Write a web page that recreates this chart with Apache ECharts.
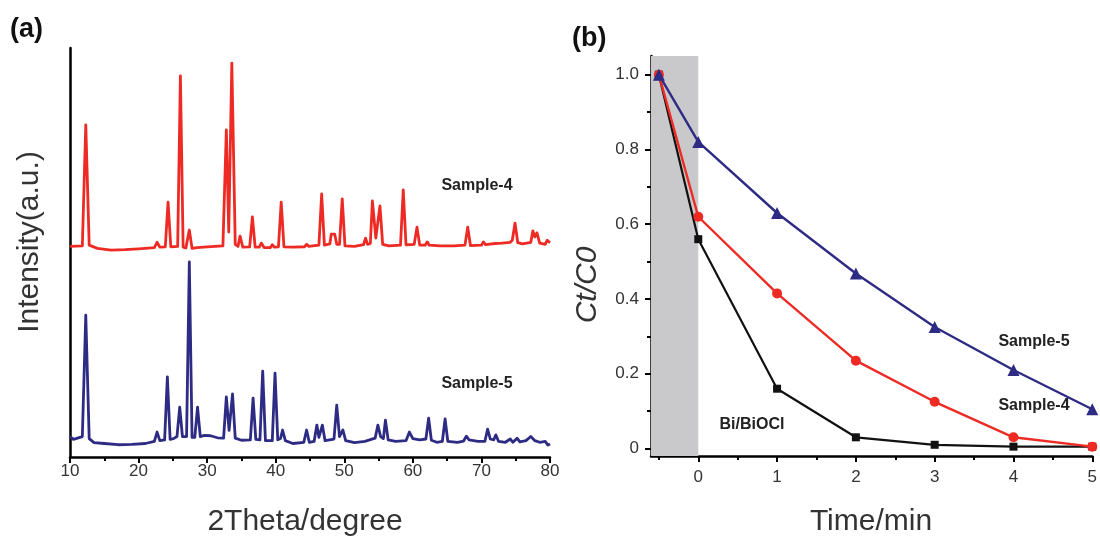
<!DOCTYPE html>
<html>
<head>
<meta charset="utf-8">
<script src="https://cdn.jsdelivr.net/npm/echarts@6/dist/echarts.min.js"></script>
<style>
  html, body { margin: 0; padding: 0; background: #ffffff; }
  #chart { width: 1100px; height: 538px; }
</style>
</head>
<body>
<div id="chart"></div>
<script>
// (a) XRD patterns: [2theta (degree), intensity (a.u., stacked offset)]
const xrdSample4 = [
  [10, 51.5], [11.8, 51.6], [12.3, 81.2], [12.8, 51.8], [14, 51.0], [16, 50.6], [18, 50.7],
  [20, 50.9], [22.3, 51.2], [22.7, 52.5], [23.1, 51.3], [23.9, 51.4], [24.3, 62.3], [24.7, 51.4],
  [25.7, 51.5], [26.1, 93.2], [26.5, 51.3], [26.9, 51.1], [27.4, 55.5], [27.8, 51.0], [28.5, 51.2],
  [30, 51.4], [32.3, 51.6], [32.8, 80.0], [33.15, 55.0], [33.6, 96.3], [34.1, 52.0], [34.5, 51.5],
  [34.8, 54.0], [35.2, 51.3], [36.2, 51.4], [36.6, 58.7], [37.0, 51.3], [37.6, 51.3], [37.9, 52.3],
  [38.3, 51.2], [39.2, 51.2], [39.5, 51.9], [39.8, 51.3], [40.4, 51.4], [40.8, 62.3], [41.2, 51.4],
  [42.5, 51.3], [44.2, 51.4], [44.5, 52.0], [44.8, 51.5], [46.3, 51.8], [46.7, 64.3], [47.1, 51.8],
  [47.9, 52.1], [48.1, 54.5], [48.6, 54.5], [48.9, 52.0], [49.3, 52.0], [49.7, 63.1], [50.1, 51.6],
  [51.5, 51.5], [52.8, 51.9], [53.1, 53.5], [53.4, 52.0], [53.8, 52.2], [54.1, 62.6], [54.6, 53.5],
  [55.2, 61.4], [55.6, 52.0], [56.5, 51.6], [58.2, 51.8], [58.6, 65.3], [59.0, 51.9], [60.2, 52.0],
  [60.6, 56.2], [61.0, 51.8], [61.8, 51.8], [62.1, 52.6], [62.4, 51.8], [64, 51.6], [66, 51.6],
  [67.6, 51.8], [68.0, 56.2], [68.4, 51.7], [70.0, 51.8], [70.3, 52.6], [70.6, 51.9], [72, 52.2],
  [73, 52.3], [74.2, 52.5], [74.5, 53.0], [74.9, 57.2], [75.3, 52.4], [76, 52.1], [77.2, 52.5],
  [77.5, 55.3], [77.8, 53.8], [78.1, 54.8], [78.5, 52.3], [79.3, 52.0], [79.6, 53.0], [80, 52.4]
];
const xrdSample5 = [
  [10, 5.0], [10.5, 4.3], [11.8, 5.0], [12.3, 34.7], [12.8, 4.5], [13.5, 3.5], [15, 3.3], [17, 3.0],
  [19, 3.1], [21, 3.3], [22.3, 3.8], [22.7, 6.1], [23.1, 4.0], [23.8, 4.2], [24.2, 19.6], [24.6, 4.3],
  [25.1, 4.5], [25.6, 5.0], [26.0, 12.2], [26.4, 5.0], [27.0, 5.0], [27.4, 47.7], [27.8, 4.8],
  [28.2, 4.8], [28.6, 12.2], [29.0, 5.0], [29.6, 5.3], [30.5, 5.2], [31.5, 4.7], [32.4, 4.6],
  [32.8, 14.7], [33.2, 6.5], [33.7, 15.4], [34.1, 4.6], [35, 4.1], [36.3, 4.2], [36.7, 14.4],
  [37.1, 4.3], [37.7, 4.2], [38.1, 21.0], [38.5, 4.0], [39.5, 4.0], [39.9, 20.5], [40.3, 4.2],
  [40.7, 4.5], [41.0, 6.6], [41.4, 4.0], [42.5, 3.3], [44.1, 3.6], [44.5, 6.6], [44.9, 3.6],
  [45.6, 3.8], [46.0, 7.8], [46.3, 4.8], [46.8, 7.8], [47.2, 4.0], [48.5, 4.4], [48.9, 12.7],
  [49.3, 5.0], [49.8, 6.6], [50.2, 4.0], [51.5, 3.5], [53, 3.8], [54.5, 4.6], [54.9, 7.8],
  [55.3, 5.0], [55.7, 4.5], [56.0, 9.0], [56.4, 4.2], [57.5, 3.8], [59.0, 4.0], [59.5, 6.1],
  [60.0, 4.5], [61, 4.2], [61.9, 4.4], [62.3, 9.5], [62.7, 4.1], [63.5, 3.6], [64.3, 3.8],
  [64.7, 9.3], [65.1, 3.8], [66.5, 3.6], [67.4, 3.9], [67.8, 5.1], [68.2, 4.2], [69.5, 3.8],
  [70.5, 3.8], [70.9, 6.8], [71.3, 4.4], [71.8, 4.2], [72.1, 5.4], [72.5, 3.8], [73.5, 3.6],
  [74.2, 4.4], [74.6, 3.6], [75.2, 4.6], [75.6, 3.7], [76.5, 4.0], [77.2, 5.0], [77.8, 4.0],
  [78.5, 3.6], [79.3, 3.8], [79.7, 2.9], [80, 3.2]
];

// (b) photodegradation: time (min) and Ct/C0
const timeMin = [-0.5, 0, 1, 2, 3, 4, 5];
const ratioBiBiOCl = [1.0, 0.56, 0.16, 0.03, 0.01, 0.005, 0.005];
const ratioSample4 = [1.0, 0.62, 0.415, 0.235, 0.125, 0.03, 0.005];
const ratioSample5 = [1.0, 0.82, 0.63, 0.468, 0.325, 0.21, 0.105];

// axis ticks for (b)
const timeTicks = [0, 1, 2, 3, 4, 5];
const timeMinorTicks = [-0.5, 0.5, 1.5, 2.5, 3.5, 4.5];
const ratioTicks = [0, 0.2, 0.4, 0.6, 0.8, 1.0];
const ratioMinorTicks = [0.1, 0.3, 0.5, 0.7, 0.9];
const darkPeriod = [-0.6, 0]; // adsorption in the dark before irradiation

const FONT = 'Liberation Sans, Arial, Helvetica, sans-serif';
const RED = '#ee2a24';
const BLUE = '#2e2b84';
const BLACK = '#111111';
const LABEL_GRAY = '#333333';

const pairs = (xs, ys) => xs.map((x, i) => [x, ys[i]]);

const axisLineStyle = { show: true, onZero: false, lineStyle: { color: '#000', width: 2.5 } };
const hiddenLine = { show: false, onZero: false };
const tickFont = { fontFamily: FONT, fontSize: 17, color: LABEL_GRAY };

const chart = echarts.init(document.getElementById('chart'), null, { renderer: 'canvas' });

chart.setOption({
  backgroundColor: '#ffffff',
  animation: false,
  grid: [
    { left: 70, top: 48, width: 480, height: 409 },
    { left: 651, top: 56, width: 445, height: 400 }
  ],
  xAxis: [
    {
      gridIndex: 0, type: 'value', position: 'bottom', min: 10, max: 80, interval: 10,
      axisLine: axisLineStyle,
      axisTick: { show: true, inside: false, length: 6, lineStyle: { color: '#000', width: 2 } },
      minorTick: { show: true, splitNumber: 2, length: 4, lineStyle: { color: '#000', width: 2 } },
      axisLabel: Object.assign({ margin: 6 }, tickFont),
      splitLine: { show: false }
    },
    {
      gridIndex: 1, type: 'value', position: 'bottom', min: -0.6, max: 5,
      axisLine: axisLineStyle,
      axisTick: { show: true, customValues: timeTicks, length: 6, lineStyle: { color: '#000', width: 2 } },
      axisLabel: Object.assign({ customValues: timeTicks, margin: 13 }, tickFont),
      splitLine: { show: false }
    },
    {
      gridIndex: 1, type: 'value', position: 'bottom', min: -0.6, max: 5,
      axisLine: hiddenLine,
      axisTick: { show: true, customValues: timeMinorTicks, length: 4, lineStyle: { color: '#000', width: 2 } },
      axisLabel: { show: false },
      splitLine: { show: false }
    }
  ],
  yAxis: [
    {
      gridIndex: 0, type: 'value', position: 'left', min: 0, max: 100,
      axisLine: axisLineStyle,
      axisTick: { show: false },
      axisLabel: { show: false },
      splitLine: { show: false }
    },
    {
      gridIndex: 1, type: 'value', position: 'left', min: -0.02, max: 1.05,
      axisLine: axisLineStyle,
      axisTick: { show: true, customValues: ratioTicks, length: 6, lineStyle: { color: '#000', width: 2 } },
      axisLabel: Object.assign({
        customValues: ratioTicks, margin: 12,
        formatter: v => (Math.abs(v) < 1e-9 ? '0' : v.toFixed(1))
      }, tickFont),
      splitLine: { show: false }
    },
    {
      gridIndex: 1, type: 'value', position: 'left', min: -0.02, max: 1.05,
      axisLine: hiddenLine,
      axisTick: { show: true, customValues: ratioMinorTicks, length: 4, lineStyle: { color: '#000', width: 2 } },
      axisLabel: { show: false },
      splitLine: { show: false }
    }
  ],
  series: [
    {
      name: 'Sample-4 XRD', type: 'line', xAxisIndex: 0, yAxisIndex: 0,
      data: xrdSample4, showSymbol: false, symbol: 'none',
      lineStyle: { color: RED, width: 2.8, join: 'round' }
    },
    {
      name: 'Sample-5 XRD', type: 'line', xAxisIndex: 0, yAxisIndex: 0,
      data: xrdSample5, showSymbol: false, symbol: 'none',
      lineStyle: { color: BLUE, width: 2.8, join: 'round' }
    },
    {
      name: 'Bi/BiOCl', type: 'line', xAxisIndex: 1, yAxisIndex: 1,
      data: pairs(timeMin, ratioBiBiOCl),
      symbol: 'rect', symbolSize: 8,
      itemStyle: { color: BLACK },
      lineStyle: { color: BLACK, width: 2.2 },
      markArea: {
        silent: true,
        itemStyle: { color: '#c9c9cb' },
        data: [[{ xAxis: darkPeriod[0], yAxis: 1.05 }, { xAxis: darkPeriod[1], yAxis: -0.02 }]]
      }
    },
    {
      name: 'Sample-4', type: 'line', xAxisIndex: 1, yAxisIndex: 1,
      data: pairs(timeMin, ratioSample4),
      symbol: 'circle', symbolSize: 10,
      itemStyle: { color: RED },
      lineStyle: { color: RED, width: 2.4 }
    },
    {
      name: 'Sample-5', type: 'line', xAxisIndex: 1, yAxisIndex: 1,
      data: pairs(timeMin, ratioSample5),
      symbol: 'triangle', symbolSize: 12,
      itemStyle: { color: BLUE },
      lineStyle: { color: BLUE, width: 2.4 }
    }
  ],
  graphic: [
    { type: 'text', x: 10, y: 30, style: { text: '(a)', font: 'bold 27px ' + FONT, fill: '#111', textAlign: 'left', textVerticalAlign: 'middle' } },
    { type: 'text', x: 572, y: 39, style: { text: '(b)', font: 'bold 27px ' + FONT, fill: '#111', textAlign: 'left', textVerticalAlign: 'middle' } },
    { type: 'text', x: 30, y: 242, rotation: Math.PI / 2, style: { text: 'Intensity(a.u.)', font: '30px ' + FONT, fill: LABEL_GRAY, textAlign: 'center', textVerticalAlign: 'middle' } },
    { type: 'text', x: 305, y: 522, style: { text: '2Theta/degree', font: '30px ' + FONT, fill: LABEL_GRAY, textAlign: 'center', textVerticalAlign: 'middle' } },
    { type: 'text', x: 871, y: 522, style: { text: 'Time/min', font: '30px ' + FONT, fill: LABEL_GRAY, textAlign: 'center', textVerticalAlign: 'middle' } },
    { type: 'text', x: 588, y: 285, rotation: Math.PI / 2, style: { text: 'Ct/C0', font: 'italic 30px ' + FONT, fill: LABEL_GRAY, textAlign: 'center', textVerticalAlign: 'middle' } },
    { type: 'text', x: 477, y: 186, style: { text: 'Sample-4', font: 'bold 16px ' + FONT, fill: '#222', textAlign: 'center', textVerticalAlign: 'middle' } },
    { type: 'text', x: 477, y: 384, style: { text: 'Sample-5', font: 'bold 16px ' + FONT, fill: '#222', textAlign: 'center', textVerticalAlign: 'middle' } },
    { type: 'text', x: 1034, y: 342, style: { text: 'Sample-5', font: 'bold 16px ' + FONT, fill: '#222', textAlign: 'center', textVerticalAlign: 'middle' } },
    { type: 'text', x: 1034, y: 406, style: { text: 'Sample-4', font: 'bold 16px ' + FONT, fill: '#222', textAlign: 'center', textVerticalAlign: 'middle' } },
    { type: 'text', x: 752, y: 425, style: { text: 'Bi/BiOCl', font: 'bold 16px ' + FONT, fill: '#222', textAlign: 'center', textVerticalAlign: 'middle' } }
  ]
});
</script>
</body>
</html>
